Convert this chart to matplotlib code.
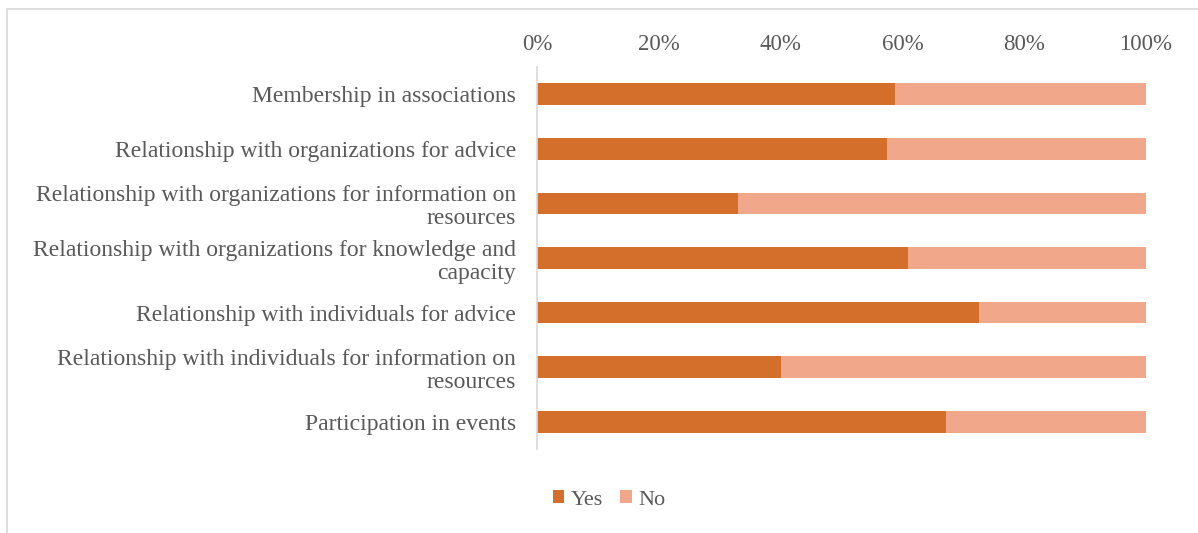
import matplotlib.pyplot as plt
import matplotlib.patches as patches
import numpy as np

categories = [
    "Membership in associations",
    "Relationship with organizations for advice",
    "Relationship with organizations for information on\nresources",
    "Relationship with organizations for knowledge and\ncapacity",
    "Relationship with individuals for advice",
    "Relationship with individuals for information on\nresources",
    "Participation in events",
]
yes = [58.8, 57.5, 33.0, 60.9, 72.6, 40.1, 67.2]
no = [100 - v for v in yes]
xticks = [0, 20, 40, 60, 80, 100]
xlabels = ["0%", "20%", "40%", "60%", "80%", "100%"]

yes_color = "#D36F2B"
no_color = "#F1A88A"
text_color = "#595959"

plt.rcParams['font.family'] = ['Liberation Serif', 'DejaVu Serif']

fig = plt.figure(figsize=(11.98, 5.33), dpi=100)
ax = fig.add_axes([537/1198, 1 - 449/533, 609/1198, 382/533])

y = np.arange(len(categories))
ax.barh(y, yes, height=0.4, color=yes_color, label="Yes")
ax.barh(y, no, left=yes, height=0.4, color=no_color, label="No")

ax.set_xlim(0, 100)
ax.set_ylim(len(categories) - 0.5, -0.5)
ax.set_yticks(y)
ax.set_yticklabels(categories, fontsize=17, color=text_color, linespacing=1.15)
ax.set_xticks(xticks)
ax.set_xticklabels(xlabels, fontsize=16.5, color=text_color)
ax.xaxis.tick_top()
ax.tick_params(axis='x', length=0, pad=9)
ax.tick_params(axis='y', length=0, pad=15)

for s in ['top', 'right', 'bottom']:
    ax.spines[s].set_visible(False)
ax.spines['left'].set_color('#d9d9d9')
ax.spines['left'].set_linewidth(1.2)

leg = fig.legend(loc='center', bbox_to_anchor=(609/1198, 1 - 500/533), ncol=2,
                 frameon=False, fontsize=16, handlelength=0.5, handleheight=0.5,
                 handletextpad=0.3, columnspacing=0.8)
for t in leg.get_texts():
    t.set_color(text_color)

# light frame around the chart area
fig.patches.append(patches.Rectangle((7/1198, -0.1), 1.2, 1.1 - 9/533,
                                     transform=fig.transFigure, fill=False,
                                     edgecolor='#d9d9d9', linewidth=1.2))

fig.savefig("out.png", dpi=100)
